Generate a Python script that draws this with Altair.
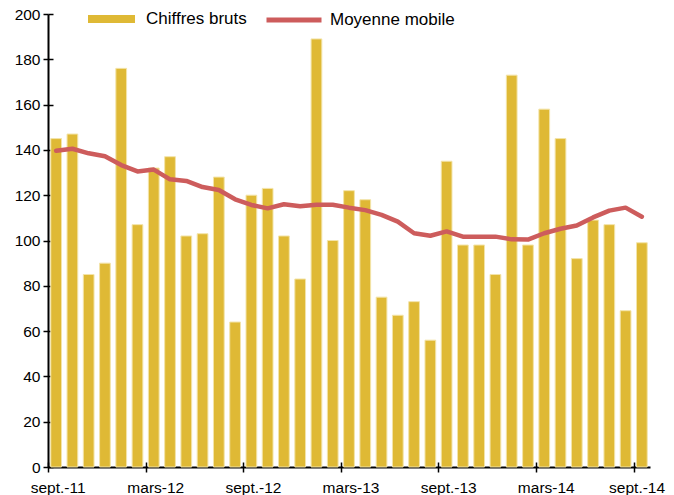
import altair as alt
import pandas as pd

mois = [
    "sept.-11", "oct.-11", "nov.-11", "déc.-11", "janv.-12", "févr.-12",
    "mars-12", "avr.-12", "mai-12", "juin-12", "juil.-12", "août-12",
    "sept.-12", "oct.-12", "nov.-12", "déc.-12", "janv.-13", "févr.-13",
    "mars-13", "avr.-13", "mai-13", "juin-13", "juil.-13", "août-13",
    "sept.-13", "oct.-13", "nov.-13", "déc.-13", "janv.-14", "févr.-14",
    "mars-14", "avr.-14", "mai-14", "juin-14", "juil.-14", "août-14",
    "sept.-14",
]
chiffres_bruts = [
    145, 147, 85, 90, 176, 107, 132, 137, 102, 103, 128, 64,
    120, 123, 102, 83, 189, 100, 122, 118, 75, 67, 73, 56,
    135, 98, 98, 85, 173, 98, 158, 145, 92, 109, 107, 69,
    99,
]
moyenne_mobile = [
    139.6, 140.5, 138.5, 137.2, 133.3, 130.5, 131.3, 127.0, 126.3, 123.6, 122.3, 118.2,
    115.7, 114.2, 116.0, 115.1, 115.8, 115.8, 114.5, 113.4, 111.3, 108.3, 103.2, 102.1,
    104.0, 101.7, 101.7, 101.7, 100.5, 100.4, 103.2, 105.2, 106.6, 110.2, 113.2, 114.5,
    110.5,
]
tick_labels = ["sept.-11", "mars-12", "sept.-12", "mars-13", "sept.-13", "mars-14", "sept.-14"]
y_ticks = list(range(0, 201, 20))

df = pd.DataFrame({
    "mois": mois,
    "brut": chiffres_bruts,
    "mm": moyenne_mobile,
    "s1": "Chiffres bruts",
    "s2": "Moyenne mobile",
})

FONT = "Liberation Sans"

x_main = alt.X(
    "mois:N", sort=mois, title=None,
    scale=alt.Scale(paddingInner=0.34, paddingOuter=0.17),
    axis=alt.Axis(orient="bottom", values=tick_labels, bandPosition=0, tickOffset=-2.77,
                  # last label nudged left so that it stays inside the page
                  labelOffset={"condition": {"test": "datum.value === 'sept.-14'", "value": -2.5},
                               "value": 4.3},
                  labelAngle=0, labelFontSize=15.5, labelColor="#000", labelFont=FONT,
                  domainColor="#000", domainWidth=2, tickColor="#000", tickWidth=1.5,
                  tickSize=5, labelPadding=8, grid=False),
)
x_inner = alt.X(
    "mois:N", sort=mois, title=None,
    axis=alt.Axis(orient="bottom", values=tick_labels, bandPosition=0, tickOffset=-2.77,
                  labels=False, domain=False, tickColor="#000", tickWidth=1.5, tickSize=5,
                  offset=-5, grid=False),
)
y_main = alt.Y(
    "brut:Q", title=None,
    scale=alt.Scale(domain=[0, 200], nice=False),
    axis=alt.Axis(orient="left", values=y_ticks, labelFontSize=15.5, labelColor="#000",
                  labelFont=FONT, domainColor="#000", domainWidth=2, tickColor="#000",
                  tickWidth=1.5, tickSize=5, labelPadding=3, grid=False),
)
y_inner = alt.Y(
    "mm:Q", title=None,
    axis=alt.Axis(orient="left", values=y_ticks, labels=False, domain=False,
                  tickColor="#000", tickWidth=1.5, tickSize=5, offset=-5, grid=False),
)

bars = alt.Chart(df).mark_bar(stroke="#F3E4A9", strokeWidth=1).encode(
    x=x_main,
    y=y_main,
    fill=alt.Fill(
        "s1:N", scale=alt.Scale(range=["#DFB935"]),
        legend=alt.Legend(orient="none", legendX=40, legendY=-25, title=None,
                          symbolType="M-1,-0.17H1V0.17H-1Z", symbolSize=2209,
                          symbolStrokeWidth=0, labelFontSize=17, labelFont=FONT,
                          labelColor="#000", labelOffset=11, padding=0,
                          labelBaseline="middle", clipHeight=60),
    ),
)

line = alt.Chart(df).mark_line(strokeWidth=4.5, strokeCap="round", strokeJoin="round").encode(
    x=x_inner,
    y=y_inner,
    stroke=alt.Stroke(
        "s2:N", scale=alt.Scale(range=["#CD5C5C"]),
        legend=alt.Legend(orient="none", legendX=216, legendY=-24, title=None,
                          symbolType="M-1,0H1", symbolSize=3025, symbolStrokeWidth=5,
                          labelFontSize=17, labelFont=FONT, labelColor="#000",
                          labelOffset=6, padding=0, labelBaseline="middle",
                          clipHeight=60),
    ),
)

chart = alt.layer(bars, line).resolve_axis(x="independent", y="independent").properties(
    width=602,
    height=453,
    background="white",
    padding={"left": 40, "top": 6, "right": 16, "bottom": 28},
    autosize=alt.AutoSizeParams(type="none"),
).configure_view(stroke=None)

chart.save("out.html", embed_options={"renderer": "svg", "actions": False})
